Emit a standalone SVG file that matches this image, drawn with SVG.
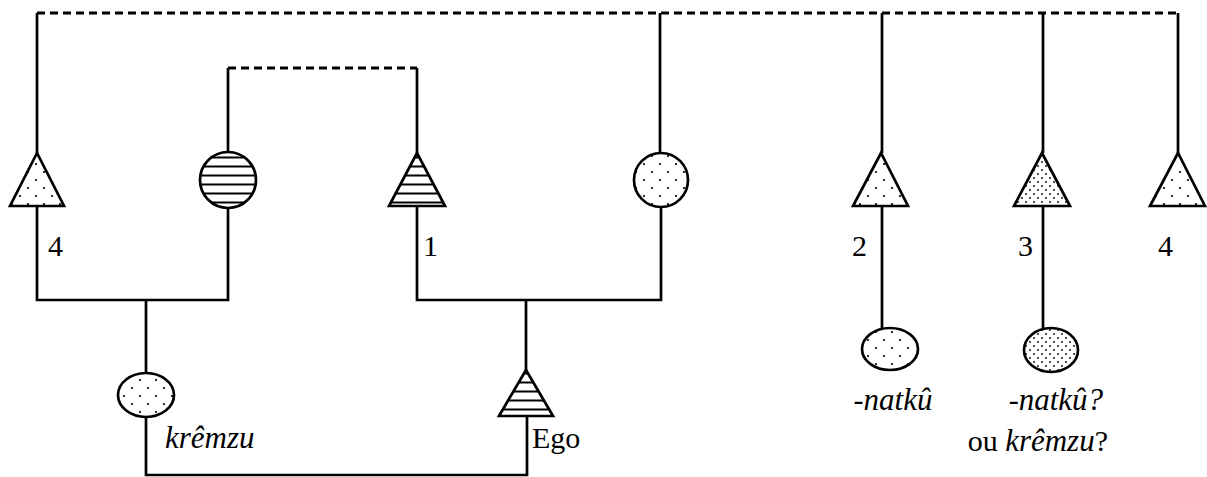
<svg xmlns="http://www.w3.org/2000/svg" width="1207" height="477" viewBox="0 0 1207 477">
<style>
.c{fill:none;stroke:#000;stroke-width:2.7}
.d{fill:none;stroke:#000;stroke-width:3;stroke-dasharray:8 5}
.s{stroke:#000;stroke-width:2.7}
.t{font-family:"Liberation Serif","Times New Roman",serif;font-size:30px;fill:#000}
.i{font-style:italic;font-size:31px}
</style>
<defs>
<pattern id="dots" patternUnits="userSpaceOnUse" width="16" height="16">
<rect width="16" height="16" fill="#fff"/>
<circle cx="4" cy="4" r="1.1" fill="#000"/>
<circle cx="12" cy="12" r="1.1" fill="#000"/>
</pattern>
<pattern id="dense" patternUnits="userSpaceOnUse" width="8" height="8">
<rect width="8" height="8" fill="#fff"/>
<circle cx="2" cy="2" r="0.9" fill="#000"/>
<circle cx="6" cy="6" r="0.9" fill="#000"/>
</pattern>
<pattern id="stripes" patternUnits="userSpaceOnUse" width="10" height="9">
<rect width="10" height="9" fill="#fff"/>
<rect y="3.5" width="10" height="2" fill="#000"/>
</pattern>
</defs>
<rect width="1207" height="477" fill="#fff"/>
<g id="connectors">
<path class="d" d="M37,13 H1180"/>
<path class="d" d="M228,68 H417"/>
<path class="c" d="M37,13 V153 M37,206 V300 H228 V208 M228,68 V152"/>
<path class="c" d="M146,300 V373 M146,417 V475 H527 V416"/>
<path class="c" d="M417,68 V153 M417,206 V300 H661 V207 M660,13 V153"/>
<path class="c" d="M526,300 V370"/>
<path class="c" d="M882,13 V153 M882,206 V328"/>
<path class="c" d="M1043,13 V153 M1043,206 V328"/>
<path class="c" d="M1178,13 V153"/>
</g>
<g id="n-left4"><polygon class="s" fill="url(#dots)" points="37,153 10,206 64,206"/><text class="t" x="48" y="256">4</text></g>
<g id="n-stripedcircle"><circle class="s" fill="url(#stripes)" cx="228" cy="180" r="28"/></g>
<g id="n-1"><polygon class="s" fill="url(#stripes)" points="417,153 389,206 445,206"/><text class="t" x="423" y="256">1</text></g>
<g id="n-dottedcircle"><circle class="s" fill="url(#dots)" cx="661" cy="180" r="27"/></g>
<g id="n-2"><polygon class="s" fill="url(#dots)" points="881,153 853,206 908,206"/><text class="t" x="852" y="256">2</text></g>
<g id="n-3"><polygon class="s" fill="url(#dense)" points="1042,153 1014,206 1070,206"/><text class="t" x="1018" y="256">3</text></g>
<g id="n-right4"><polygon class="s" fill="url(#dots)" points="1178,153 1150,206 1205,206"/><text class="t" x="1158" y="256">4</text></g>
<g id="n-kremzu"><ellipse class="s" fill="url(#dots)" cx="146" cy="395" rx="28" ry="22"/><text class="t i" x="165" y="448">krêmzu</text></g>
<g id="n-ego"><polygon class="s" fill="url(#stripes)" points="526,370 499,416 553,416"/><text class="t" x="532" y="448">Ego</text></g>
<g id="n-natku"><ellipse class="s" fill="url(#dots)" cx="890" cy="349" rx="28" ry="21"/><text class="t" x="893" y="410" text-anchor="middle">-<tspan class="i">natkû</tspan></text></g>
<g id="n-natku2"><ellipse class="s" fill="url(#dense)" cx="1051" cy="350" rx="27" ry="22"/><text class="t" x="1103" y="410" text-anchor="end">-<tspan class="i">natkû?</tspan></text><text class="t" x="1108" y="451" text-anchor="end">ou <tspan class="i">krêmzu</tspan>?</text></g>
</svg>
